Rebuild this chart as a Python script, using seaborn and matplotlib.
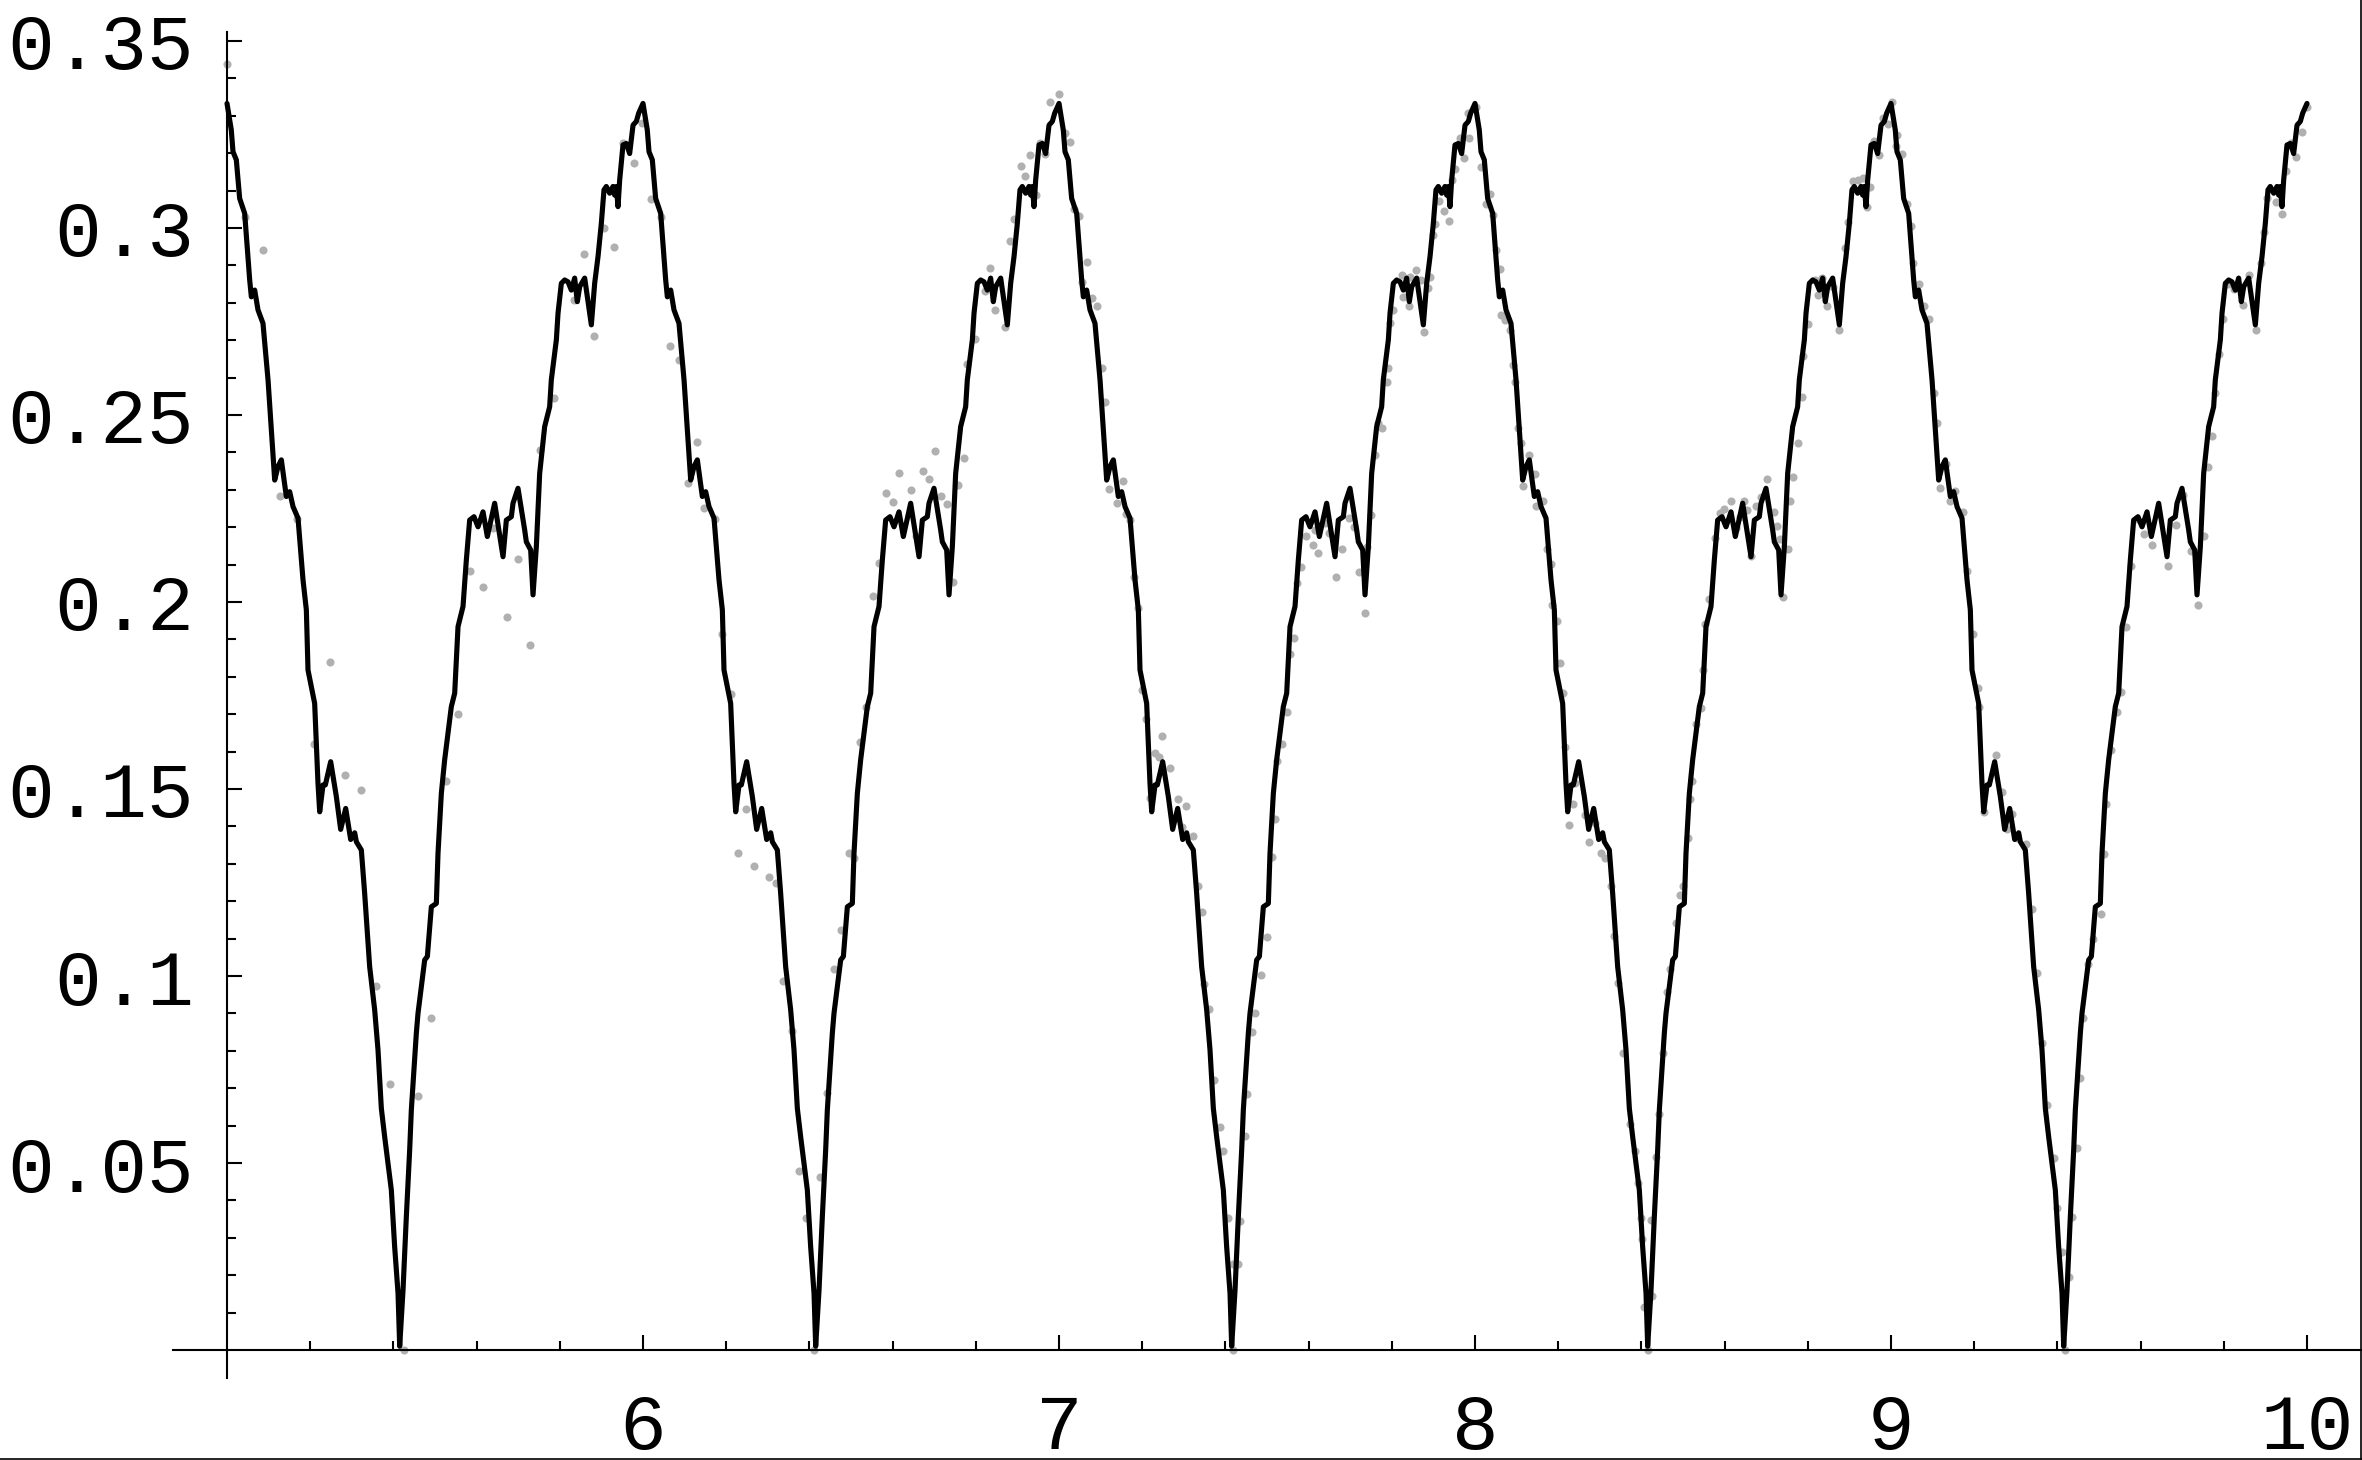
import numpy as np
import matplotlib
matplotlib.use("Agg")
import matplotlib.pyplot as plt
from matplotlib.ticker import FixedLocator, FixedFormatter
import seaborn as sns

# one period of the black curve (phase within the period, value)
phase = [0.0000, 0.0103, 0.0144, 0.0224, 0.0304, 0.0425, 0.0545, 0.0585, 0.0665, 0.0745,
         0.0865, 0.0986, 0.1066, 0.1146, 0.1226, 0.1306, 0.1426, 0.1506, 0.1587, 0.1707,
         0.1827, 0.1907, 0.1947, 0.2107, 0.2187, 0.2228, 0.2308, 0.2364, 0.2492, 0.2628,
         0.2732, 0.2853, 0.2973, 0.3069, 0.3109, 0.3229, 0.3309, 0.3429, 0.3550, 0.3630,
         0.3710, 0.3790, 0.3950, 0.4030, 0.4111, 0.4151, 0.4231, 0.4311, 0.4391, 0.4431,
         0.4551, 0.4591, 0.4671, 0.4752, 0.4816, 0.4912, 0.5032, 0.5072, 0.5152, 0.5232,
         0.5312, 0.5392, 0.5473, 0.5553, 0.5673, 0.5753, 0.5833, 0.5937, 0.6034, 0.6154,
         0.6258, 0.6434, 0.6635, 0.6715, 0.6835, 0.6875, 0.6995, 0.7155, 0.7195, 0.7300,
         0.7356, 0.7436, 0.7516, 0.7636, 0.7756, 0.7796, 0.7917, 0.7957, 0.8037, 0.8117,
         0.8197, 0.8277, 0.8357, 0.8421, 0.8478, 0.8598, 0.8758, 0.8838, 0.8918, 0.8998,
         0.9062, 0.9118, 0.9199, 0.9279, 0.9319, 0.9359, 0.9399, 0.9439, 0.9519, 0.9599,
         0.9679, 0.9760, 0.9840, 0.9896, 1.0000]
level = [0.3333, 0.3262, 0.3204, 0.3182, 0.3079, 0.3039, 0.2861, 0.2816, 0.2834, 0.2781,
         0.2745, 0.2594, 0.2460, 0.2326, 0.2362, 0.2380, 0.2282, 0.2295, 0.2255, 0.2224,
         0.2059, 0.1979, 0.1818, 0.1729, 0.1515, 0.1439, 0.1511, 0.1511, 0.1573, 0.1480,
         0.1392, 0.1448, 0.1365, 0.1383, 0.1359, 0.1337, 0.1221, 0.1025, 0.0909, 0.0802,
         0.0646, 0.0570, 0.0428, 0.0276, 0.0152, 0.0010, 0.0160, 0.0357, 0.0535, 0.0642,
         0.0847, 0.0900, 0.0971, 0.1043, 0.1052, 0.1185, 0.1194, 0.1328, 0.1488, 0.1578,
         0.1649, 0.1720, 0.1756, 0.1934, 0.1988, 0.2112, 0.2219, 0.2228, 0.2201, 0.2241,
         0.2175, 0.2264, 0.2121, 0.2219, 0.2228, 0.2264, 0.2304, 0.2193, 0.2161, 0.2139,
         0.2019, 0.2148, 0.2344, 0.2469, 0.2522, 0.2594, 0.2701, 0.2772, 0.2852, 0.2861,
         0.2856, 0.2834, 0.2866, 0.2803, 0.2843, 0.2866, 0.2741, 0.2852, 0.2923, 0.3012,
         0.3102, 0.3111, 0.3093, 0.3111, 0.3088, 0.3111, 0.3057, 0.3128, 0.3222, 0.3226,
         0.3199, 0.3275, 0.3285, 0.3307, 0.3333]
period_starts = [5, 6, 7, 8, 9]

# grey sample points
dots_x = [
    # 5 - 6
    5.000, 5.043, 5.087, 5.127, 5.169, 5.208, 5.248, 5.284, 5.323, 5.357, 5.392, 5.426,
    5.460, 5.490, 5.526, 5.556, 5.584, 5.616, 5.640, 5.674, 5.700, 5.728, 5.752, 5.785,
    5.833, 5.859, 5.882, 5.907, 5.931, 5.953, 5.979, 5.997,
    # 6 - 7
    6.019, 6.043, 6.066, 6.086, 6.109, 6.130, 6.147, 6.173, 6.190, 6.212, 6.229, 6.248,
    6.268, 6.304, 6.320, 6.337, 6.358, 6.376, 6.393, 6.410, 6.426, 6.442, 6.460, 6.476,
    6.494, 6.508, 6.522, 6.536, 6.554, 6.568, 6.584, 6.602, 6.616, 6.645, 6.656, 6.674,
    6.688, 6.703, 6.716, 6.730, 6.746, 6.756, 6.772, 6.780, 6.797, 6.821, 6.835, 6.847,
    6.871, 6.882, 6.893, 6.909, 6.919, 6.931, 6.945, 6.954, 6.967, 6.979,
    # 7 - 8
    7.000, 7.014, 7.026, 7.035, 7.047, 7.055, 7.068, 7.079, 7.091, 7.103, 7.111, 7.121,
    7.140, 7.153, 7.161, 7.171, 7.180, 7.191, 7.199, 7.209, 7.219, 7.231, 7.241, 7.248,
    7.267, 7.287, 7.295, 7.305, 7.321, 7.335, 7.343, 7.349, 7.361, 7.373, 7.387, 7.395,
    7.406, 7.418, 7.418, 7.430, 7.435, 7.447, 7.453, 7.465, 7.471, 7.485, 7.499, 7.511,
    7.519, 7.525, 7.535, 7.549, 7.555, 7.565, 7.573, 7.581, 7.594, 7.610, 7.615, 7.623,
    7.639, 7.650, 7.666, 7.680, 7.696, 7.708, 7.722, 7.736, 7.740, 7.749, 7.760, 7.768,
    7.776, 7.788, 7.792, 7.796, 7.804, 7.824, 7.828, 7.842, 7.844, 7.858, 7.869, 7.878,
    7.888, 7.892, 7.900, 7.904, 7.914, 7.926, 7.938, 7.944, 7.952, 7.964, 7.974, 7.984,
    7.986,
    # 8 - 9
    8.003, 8.015, 8.027, 8.035, 8.043, 8.051, 8.059, 8.063, 8.073, 8.083, 8.091, 8.095,
    8.103, 8.111, 8.115, 8.130, 8.145, 8.147, 8.164, 8.174, 8.182, 8.184, 8.198, 8.204,
    8.212, 8.217, 8.226, 8.236, 8.241, 8.264, 8.274, 8.288, 8.304, 8.313, 8.328, 8.334,
    8.344, 8.356, 8.372, 8.384, 8.393, 8.398, 8.401, 8.406, 8.416, 8.422, 8.426, 8.436,
    8.442, 8.452, 8.462, 8.468, 8.482, 8.492, 8.500, 8.512, 8.518, 8.522, 8.532, 8.544,
    8.548, 8.554, 8.562, 8.576, 8.588, 8.599, 8.616, 8.628, 8.636, 8.647, 8.655, 8.664,
    8.676, 8.687, 8.702, 8.719, 8.727, 8.732, 8.740, 8.752, 8.756, 8.764, 8.776, 8.785,
    8.789, 8.801, 8.817, 8.825, 8.835, 8.845, 8.861, 8.875, 8.889, 8.897, 8.909, 8.921,
    8.933, 8.942, 8.949, 8.959, 8.971, 8.981, 8.993, 9.002,
    # 9 - 10
    9.013, 9.015, 9.027, 9.038, 9.047, 9.054, 9.067, 9.079, 9.091, 9.103, 9.111, 9.118,
    9.131, 9.143, 9.153, 9.172, 9.182, 9.196, 9.208, 9.212, 9.224, 9.252, 9.268, 9.278,
    9.292, 9.304, 9.324, 9.340, 9.350, 9.364, 9.376, 9.392, 9.400, 9.412, 9.418, 9.428,
    9.436, 9.446, 9.454, 9.462, 9.474, 9.486, 9.504, 9.512, 9.518, 9.528, 9.544, 9.554,
    9.564, 9.576, 9.592, 9.608, 9.628, 9.642, 9.666, 9.684, 9.703, 9.720, 9.739, 9.752,
    9.762, 9.772, 9.780, 9.789, 9.799, 9.809, 9.825, 9.845, 9.861, 9.877, 9.889, 9.897,
    9.905, 9.925, 9.941, 9.949, 9.961, 9.974, 9.989, 10.000,
]
dots_y = [
    # 5 - 6
    0.3438, 0.3029, 0.2942, 0.2283, 0.2223, 0.1620, 0.1840, 0.1537, 0.1497, 0.0973, 0.0711, 0.0000,
    0.0678, 0.0887, 0.1521, 0.1701, 0.2084, 0.2040, 0.2199, 0.1960, 0.2115, 0.1885, 0.2406, 0.2545,
    0.2808, 0.2930, 0.2710, 0.3000, 0.2949, 0.3226, 0.3174, 0.3280,
    # 6 - 7
    0.3077, 0.3029, 0.2684, 0.2646, 0.2318, 0.2428, 0.2252, 0.2223, 0.1915, 0.1755, 0.1330, 0.1446,
    0.1295, 0.1264, 0.1249, 0.0987, 0.0852, 0.0479, 0.0354, 0.0000, 0.0462, 0.0686, 0.1020, 0.1122,
    0.1330, 0.1316, 0.1627, 0.1719, 0.2017, 0.2104, 0.2291, 0.2267, 0.2344, 0.2299, 0.2176, 0.2351,
    0.2329, 0.2404, 0.2283, 0.2263, 0.2054, 0.2313, 0.2385, 0.2637, 0.2703, 0.2831, 0.2893, 0.2782,
    0.2735, 0.2965, 0.3023, 0.3166, 0.3139, 0.3194, 0.3087, 0.3226, 0.3199, 0.3336,
    # 7 - 8
    0.3358, 0.3255, 0.3229, 0.3052, 0.3031, 0.2855, 0.2909, 0.2812, 0.2792, 0.2625, 0.2534, 0.2302,
    0.2266, 0.2324, 0.2235, 0.2219, 0.2066, 0.1983, 0.1766, 0.1686, 0.1475, 0.1597, 0.1586, 0.1643,
    0.1555, 0.1472, 0.1399, 0.1455, 0.1374, 0.1241, 0.1170, 0.0979, 0.0911, 0.0722, 0.0595, 0.0533,
    0.0352, 0.0230, 0.0000, 0.0229, 0.0345, 0.0572, 0.0684, 0.0849, 0.0900, 0.1003, 0.1105, 0.1317,
    0.1419, 0.1574, 0.1620, 0.1707, 0.1860, 0.1903, 0.2050, 0.2093, 0.2176, 0.2152, 0.2193, 0.2130,
    0.2210, 0.2184, 0.2066, 0.2143, 0.2224, 0.2201, 0.2081, 0.1970, 0.2148, 0.2233, 0.2393, 0.2478,
    0.2464, 0.2589, 0.2625, 0.2745, 0.2781, 0.2874, 0.2816, 0.2791, 0.2870, 0.2888, 0.2861, 0.2721,
    0.2839, 0.2870, 0.2981, 0.3012, 0.3071, 0.3045, 0.3019, 0.3128, 0.3157, 0.3240, 0.3186, 0.3307,
    0.3240,
    # 8 - 9
    0.3324, 0.3162, 0.3063, 0.3092, 0.3034, 0.2942, 0.2890, 0.2768, 0.2754, 0.2727, 0.2634, 0.2588,
    0.2466, 0.2426, 0.2310, 0.2394, 0.2341, 0.2257, 0.2271, 0.2142, 0.2101, 0.1991, 0.1950, 0.1837,
    0.1757, 0.1612, 0.1403, 0.1461, 0.1516, 0.1430, 0.1359, 0.1409, 0.1328, 0.1316, 0.1241, 0.1107,
    0.0980, 0.0794, 0.0603, 0.0533, 0.0447, 0.0354, 0.0296, 0.0116, 0.0000, 0.0348, 0.0145, 0.0516,
    0.0632, 0.0794, 0.0957, 0.1020, 0.1142, 0.1217, 0.1241, 0.1368, 0.1472, 0.1522, 0.1675, 0.1716,
    0.1817, 0.1941, 0.2008, 0.2171, 0.2237, 0.2248, 0.2269, 0.2199, 0.2228, 0.2271, 0.2246, 0.2122,
    0.2257, 0.2281, 0.2329, 0.2240, 0.2202, 0.2168, 0.2014, 0.2142, 0.2269, 0.2333, 0.2426, 0.2547,
    0.2658, 0.2744, 0.2860, 0.2820, 0.2866, 0.2791, 0.2843, 0.2727, 0.2947, 0.3017, 0.3125, 0.3127,
    0.3133, 0.3055, 0.3110, 0.3232, 0.3194, 0.3295, 0.3278, 0.3338,
    # 9 - 10
    0.3220, 0.3249, 0.3197, 0.3063, 0.3005, 0.2907, 0.2849, 0.2791, 0.2756, 0.2559, 0.2478, 0.2306,
    0.2368, 0.2269, 0.2298, 0.2240, 0.2084, 0.1915, 0.1771, 0.1718, 0.1439, 0.1592, 0.1492, 0.1392,
    0.1432, 0.1368, 0.1352, 0.1179, 0.1007, 0.0820, 0.0654, 0.0514, 0.0381, 0.0262, 0.0000, 0.0195,
    0.0355, 0.0541, 0.0727, 0.0887, 0.1033, 0.1100, 0.1166, 0.1326, 0.1459, 0.1605, 0.1705, 0.1759,
    0.1933, 0.2095, 0.2223, 0.2182, 0.2153, 0.2234, 0.2097, 0.2205, 0.2287, 0.2136, 0.1993, 0.2176,
    0.2362, 0.2443, 0.2559, 0.2663, 0.2756, 0.2849, 0.2837, 0.2793, 0.2874, 0.2727, 0.2907, 0.2988,
    0.3081, 0.3069, 0.3037, 0.3153, 0.3226, 0.3191, 0.3257, 0.3324,
]

x_ticks = [6, 7, 8, 9, 10]
x_labels = ["6", "7", "8", "9", "10"]
y_ticks = [0.05, 0.1, 0.15, 0.2, 0.25, 0.3, 0.35]
y_labels = ["0.05", "0.1", "0.15", "0.2", "0.25", "0.3", "0.35"]

sns.set_style("white")
plt.rcParams['font.family'] = ['Liberation Mono', 'DejaVu Sans Mono']

curve_x = np.concatenate([s + np.array(phase) for s in period_starts])
curve_y = np.tile(level, len(period_starts))

fig = plt.figure(figsize=(23.62, 14.60), dpi=100)
ax = fig.add_axes([0, 0, 1, 1])

sns.scatterplot(x=dots_x, y=dots_y, color="#b0b0b0", s=34, linewidth=0, ax=ax, zorder=1)
sns.lineplot(x=curve_x, y=curve_y, sort=False, estimator=None, color="black",
             linewidth=3.7, ax=ax, zorder=2)

ax.set_xlim(4.4543, 10.1322)
ax.set_ylim(-0.02941, 0.36096)

# Mathematica-like axes crossing at (5, 0)
for side in ["top", "right"]:
    ax.spines[side].set_visible(False)
ax.spines["left"].set_position(("data", 5))
ax.spines["bottom"].set_position(("data", 0))
ax.spines["left"].set_bounds(-0.0075, 0.3525)
ax.spines["bottom"].set_bounds(4.87, 10.1322)
for side in ["left", "bottom"]:
    ax.spines[side].set_linewidth(1.5)
    ax.spines[side].set_color("black")

ax.xaxis.set_major_locator(FixedLocator(x_ticks))
ax.xaxis.set_major_formatter(FixedFormatter(x_labels))
ax.xaxis.set_minor_locator(FixedLocator([v / 10 for v in range(52, 100, 2) if v % 10 != 0]))
ax.yaxis.set_major_locator(FixedLocator(y_ticks))
ax.yaxis.set_major_formatter(FixedFormatter(y_labels))
ax.yaxis.set_minor_locator(FixedLocator([v / 100 for v in range(1, 36) if v % 5 != 0]))

ax.tick_params(which="both", direction="in", width=1.5, color="black",
               bottom=True, left=True, top=False, right=False, labelcolor="black")
ax.tick_params(which="major", length=10.5)
ax.tick_params(which="minor", length=6.5)
ax.tick_params(axis="y", which="major", pad=24, labelsize=56)
ax.tick_params(axis="x", which="major", pad=30, labelsize=56)
ax.set_xlabel("")
ax.set_ylabel("")

# thin frame lines on the right and bottom edges of the image
fig.add_artist(plt.Line2D([0, 1], [0.0004, 0.0004], transform=fig.transFigure, color="black", lw=1.2))
fig.add_artist(plt.Line2D([0.9997, 0.9997], [0, 1], transform=fig.transFigure, color="black", lw=1.2))

fig.savefig("out.png", dpi=100)
plt.close(fig)
